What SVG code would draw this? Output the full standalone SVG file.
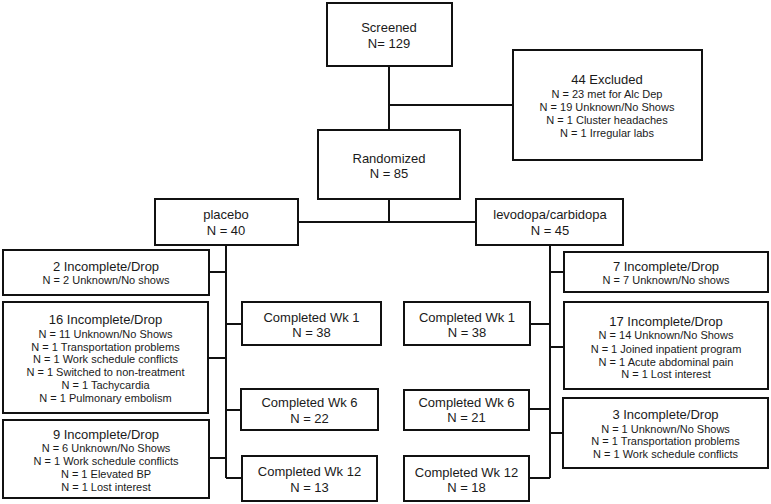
<svg xmlns="http://www.w3.org/2000/svg" width="771" height="504" viewBox="0 0 771 504">
<style>
.box{fill:#fff;stroke:#111;stroke-width:2}
.ln{fill:none;stroke:#111;stroke-width:2}
text{font-family:"Liberation Sans",Arial,sans-serif;fill:#1a1a1a;text-anchor:middle}
.t{font-size:13px}
.s{font-size:11px}
</style>
<rect width="771" height="504" fill="#fff"/>
<g id="connectors">
<path class="ln" d="M389 66V130M389 105H513"/>
<path class="ln" d="M389 199V222M298 222H476"/>
<path class="ln" d="M226 245V478M209 272H226M208 358H226M226 324H242M226 410H241M209 458H226M226 478H242"/>
<path class="ln" d="M550 245V478M550 272H564M530 324H550M550 347H564M529 409H550M550 433H563M529 478H550"/>
</g>
<g id="screened"><rect class="box" x="327" y="3" width="125" height="63"/><text class="t" x="389" y="32">Screened</text><text class="t" x="389" y="48">N= 129</text></g>
<g id="excluded"><rect class="box" x="513" y="50" width="189" height="110"/><text class="t" x="607" y="84">44 Excluded</text><text class="s" x="607" y="97.5">N = 23 met for Alc Dep</text><text class="s" x="607" y="111">N = 19 Unknown/No Shows</text><text class="s" x="607" y="124">N = 1 Cluster headaches</text><text class="s" x="607" y="137">N = 1 Irregular labs</text></g>
<g id="randomized"><rect class="box" x="318" y="130" width="142" height="69"/><text class="t" x="389" y="163">Randomized</text><text class="t" x="389" y="178">N = 85</text></g>
<g id="placebo"><rect class="box" x="155" y="199" width="143" height="46"/><text class="t" x="226" y="219">placebo</text><text class="t" x="226" y="235">N = 40</text></g>
<g id="levodopa"><rect class="box" x="476" y="199" width="147" height="46"/><text class="t" x="550" y="219">levodopa/carbidopa</text><text class="t" x="550" y="235">N = 45</text></g>
<g id="p-drop2"><rect class="box" x="3" y="250" width="206" height="45"/><text class="t" x="106" y="271">2 Incomplete/Drop</text><text class="s" x="106" y="284">N = 2 Unknown/No shows</text></g>
<g id="p-drop16"><rect class="box" x="3" y="302" width="205" height="111"/><text class="t" x="105.5" y="324">16 Incomplete/Drop</text><text class="s" x="105.5" y="338">N = 11 Unknown/No Shows</text><text class="s" x="105.5" y="350.7">N = 1 Transportation problems</text><text class="s" x="105.5" y="363.4">N = 1 Work schedule conflicts</text><text class="s" x="105.5" y="376.1">N = 1 Switched to non-treatment</text><text class="s" x="105.5" y="388.8">N = 1 Tachycardia</text><text class="s" x="105.5" y="401.5">N = 1 Pulmonary embolism</text></g>
<g id="p-drop9"><rect class="box" x="3" y="420" width="206" height="78"/><text class="t" x="106" y="439">9 Incomplete/Drop</text><text class="s" x="106" y="452">N = 6 Unknown/No Shows</text><text class="s" x="106" y="465">N = 1 Work schedule conflicts</text><text class="s" x="106" y="478">N = 1 Elevated BP</text><text class="s" x="106" y="491">N = 1 Lost interest</text></g>
<g id="p-wk1"><rect class="box" x="242" y="302" width="139" height="43"/><text class="t" x="311.5" y="322">Completed Wk 1</text><text class="t" x="311.5" y="337">N = 38</text></g>
<g id="p-wk6"><rect class="box" x="241" y="389" width="137" height="41"/><text class="t" x="309.5" y="407">Completed Wk 6</text><text class="t" x="309.5" y="422.5">N = 22</text></g>
<g id="p-wk12"><rect class="box" x="242" y="456" width="135" height="45"/><text class="t" x="309.5" y="476">Completed Wk 12</text><text class="t" x="309.5" y="491.5">N = 13</text></g>
<g id="l-drop7"><rect class="box" x="564" y="252" width="204" height="40"/><text class="t" x="666" y="271">7 Incomplete/Drop</text><text class="s" x="666" y="284">N = 7 Unknown/No shows</text></g>
<g id="l-drop17"><rect class="box" x="564" y="302" width="204" height="87"/><text class="t" x="666" y="326">17 Incomplete/Drop</text><text class="s" x="666" y="339.3">N = 14 Unknown/No Shows</text><text class="s" x="666" y="352.5">N = 1 Joined inpatient program</text><text class="s" x="666" y="365.5">N = 1 Acute abdominal pain</text><text class="s" x="666" y="378.3">N = 1 Lost interest</text></g>
<g id="l-drop3"><rect class="box" x="563" y="398" width="205" height="70"/><text class="t" x="665.5" y="419">3 Incomplete/Drop</text><text class="s" x="665.5" y="432.5">N = 1 Unknown/No Shows</text><text class="s" x="665.5" y="445.3">N = 1 Transportation problems</text><text class="s" x="665.5" y="458.2">N = 1 Work schedule conflicts</text></g>
<g id="l-wk1"><rect class="box" x="404" y="302" width="126" height="43"/><text class="t" x="467" y="322">Completed Wk 1</text><text class="t" x="467" y="337">N = 38</text></g>
<g id="l-wk6"><rect class="box" x="404" y="390" width="125" height="40"/><text class="t" x="466.5" y="406.7">Completed Wk 6</text><text class="t" x="466.5" y="421.7">N = 21</text></g>
<g id="l-wk12"><rect class="box" x="404" y="456" width="125" height="45"/><text class="t" x="466.5" y="476.5">Completed Wk 12</text><text class="t" x="466.5" y="491.7">N = 18</text></g>
</svg>
